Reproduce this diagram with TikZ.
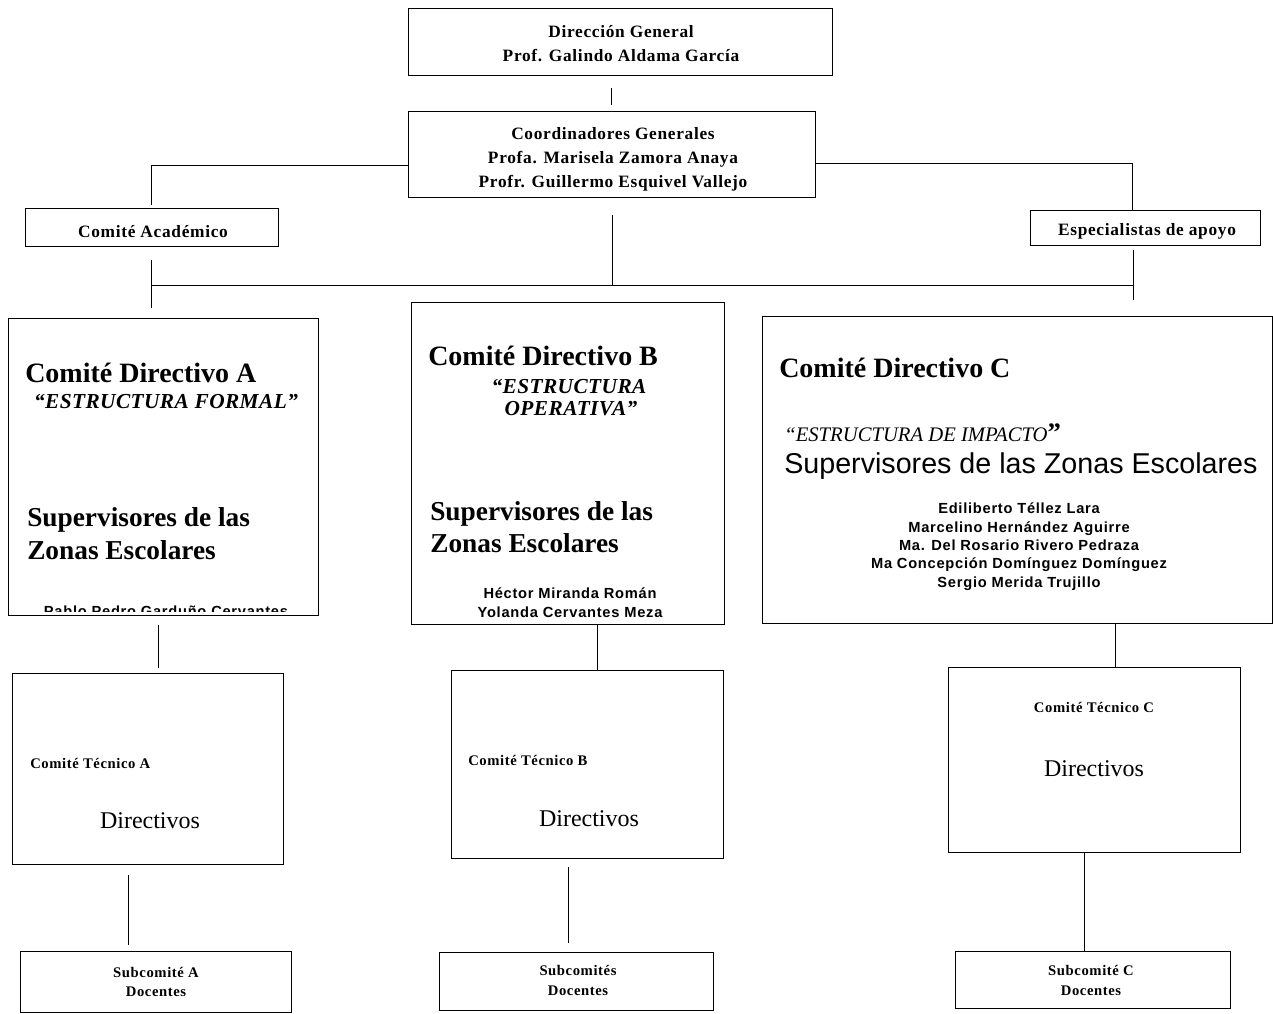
\documentclass[tikz,border=0pt]{standalone}
\usepackage{fontspec}
\setmainfont{Liberation Serif}
\setsansfont{Liberation Sans}
\newfontfamily\spacedserif[LetterSpace=4]{Liberation Serif}
\newfontfamily\smallspaced[LetterSpace=4]{Liberation Serif}
\newfontfamily\midspaced[LetterSpace=2]{Liberation Serif}
\newfontfamily\namesans[LetterSpace=5]{Liberation Sans}
\usetikzlibrary{fit}
\begin{document}
\begin{tikzpicture}[x=0.75pt,y=-0.75pt,
  box/.style={draw=black, line width=0.7pt, inner sep=0pt, fit={#1}},
  conn/.style={draw=black, line width=0.7pt},
  lbl/.style={anchor=base, inner sep=0pt},
  hdr/.style={lbl, font=\spacedserif\bfseries\fontsize{13}{15}\selectfont},
  bigt/.style={lbl, anchor=base west, font=\bfseries\fontsize{21}{24}\selectfont},
  supt/.style={lbl, anchor=base west, font=\bfseries\fontsize{20.5}{24}\selectfont},
  estr/.style={lbl, font=\midspaced\bfseries\itshape\fontsize{16}{19}\selectfont},
  names/.style={lbl, font=\namesans\bfseries\fontsize{11}{13}\selectfont},
  tec/.style={lbl, font=\smallspaced\bfseries\fontsize{11}{13}\selectfont},
  dirv/.style={lbl, font=\fontsize{18}{21}\selectfont}]
\useasboundingbox (0,0) rectangle (1273,1013);

% boxes
\node[box={(408,8)(832,75)}] (dg) {};
\node[box={(408,111)(815,197)}] (cg) {};
\node[box={(25,208)(278,246)}] (acad) {};
\node[box={(1030,210)(1260,245)}] (esp) {};
\node[box={(8,318)(318,615)}] (cda) {};
\node[box={(411,302)(724,624)}] (cdb) {};
\node[box={(762,316)(1272,623)}] (cdc) {};
\node[box={(12,673)(283,864)}] (teca) {};
\node[box={(451,670)(723,858)}] (tecb) {};
\node[box={(948,667)(1240,852)}] (tecc) {};
\node[box={(20,951)(291,1012)}] (suba) {};
\node[box={(439,952)(713,1010)}] (subb) {};
\node[box={(955,951)(1230,1008)}] (subc) {};

% helper coordinates
\coordinate (X611) at (611,0);
\coordinate (X612) at (612,0);
\coordinate (Y165) at (0,165);
\coordinate (Y163) at (0,163);
\coordinate (X1132) at (1132,0);
\coordinate (X1133) at (1133,0);
\coordinate (X158) at (158,0);
\coordinate (X597) at (597,0);
\coordinate (X1115) at (1115,0);
\coordinate (X128) at (128,0);
\coordinate (X568) at (568,0);
\coordinate (X1084) at (1084,0);
\coordinate (busL) at (152,285);
\coordinate (busM) at (612,285);
\coordinate (busR) at (1133,285);

% connectors
\draw[conn, shorten <=9.75pt, shorten >=4.5pt] (dg.south -| X611) -- (cg.north -| X611);
\draw[conn, shorten >=2pt] (cg.west |- Y165) -| (acad.north);
\draw[conn] (cg.east |- Y163) -| (esp.north -| X1132);
\draw[conn, shorten <=13.5pt] (cg.south -| X612) -- (busM);
\draw[conn] (busL) -- (busR);
\draw[conn, shorten <=10.5pt, shorten >=7.5pt] (acad.south) -- (cda.north -| acad.south);
\draw[conn, shorten <=3.75pt, shorten >=12pt] (esp.south -| X1133) -- (cdc.north -| X1133);
\draw[conn, shorten <=7.5pt, shorten >=3.75pt] (cda.south -| X158) -- (teca.north -| X158);
\draw[conn] (cdb.south -| X597) -- (tecb.north -| X597);
\draw[conn] (cdc.south -| X1115) -- (tecc.north -| X1115);
\draw[conn, shorten <=8.25pt, shorten >=4.5pt] (teca.south -| X128) -- (suba.north -| X128);
\draw[conn, shorten <=6.75pt, shorten >=6.75pt] (tecb.south -| X568) -- (subb.north -| X568);
\draw[conn] (tecc.south -| X1084) -- (subc.north -| X1084);

% top texts
\node[hdr] (dg1) at (621,38) {Dirección General};
\node[hdr] (dg2) at (621,62) {Prof. Galindo Aldama García};
\node[hdr] (cg1) at (613,140) {Coordinadores Generales};
\node[hdr] (cg2) at (613,163) {Profa. Marisela Zamora Anaya};
\node[hdr] (cg3) at (613,187) {Profr. Guillermo Esquivel Vallejo};
\node[hdr] (acadt) at (153,237) {Comité Académico};
\node[hdr] (espt) at (1147,235) {Especialistas de apoyo};

% Comite Directivo A
\node[bigt] (cdat) at (25,382) {Comité Directivo A};
\node[estr] (cdae) at (166,408) {“ESTRUCTURA FORMAL”};
\node[supt] (cdas1) at (27,526) {Supervisores de las};
\node[supt] (cdas2) at (27,559) {Zonas Escolares};
\begin{scope}
  \clip (8,318) rectangle (318,611);
  \node[names] (cdan) at (166,616) {Pablo Pedro Garduño Cervantes};
\end{scope}

% Comite Directivo B
\node[bigt] (cdbt) at (428,365) {Comité Directivo B};
\node[estr] (cdbe1) at (569,393) {“ESTRUCTURA};
\node[estr] (cdbe2) at (571,415) {OPERATIVA”};
\node[supt] (cdbs1) at (430,520) {Supervisores de las};
\node[supt] (cdbs2) at (430,552) {Zonas Escolares};
\node[names] (cdbn1) at (570,598) {Héctor Miranda Román};
\node[names] (cdbn2) at (570,617) {Yolanda Cervantes Meza};

% Comite Directivo C
\node[bigt] (cdct) at (779,377) {Comité Directivo C};
\node[lbl, anchor=base west, font=\itshape\fontsize{15.5}{18}\selectfont] (cdce) at (784,441)
  {“ESTRUCTURA DE IMPACTO{\upshape\bfseries\fontsize{20}{20}\selectfont ”}};
\node[lbl, anchor=base west, font=\sffamily\fontsize{21.5}{25}\selectfont] (cdcs) at (784,473)
  {Supervisores de las Zonas Escolares};
\node[names] (cdcn1) at (1019,513) {Ediliberto Téllez Lara};
\node[names] (cdcn2) at (1019,532) {Marcelino Hernández Aguirre};
\node[names] (cdcn3) at (1019,550) {Ma. Del Rosario Rivero Pedraza};
\node[names] (cdcn4) at (1019,568) {Ma Concepción Domínguez Domínguez};
\node[names] (cdcn5) at (1019,587) {Sergio Merida Trujillo};

% Comites tecnicos
\node[tec, anchor=base west] (tecat) at (30,768) {Comité Técnico A};
\node[dirv] (tecad) at (150,828) {Directivos};
\node[tec, anchor=base west] (tecbt) at (468,765) {Comité Técnico B};
\node[dirv] (tecbd) at (589,826) {Directivos};
\node[tec] (tecct) at (1094,712) {Comité Técnico C};
\node[dirv] (teccd) at (1094,776) {Directivos};

% Subcomites
\node[tec] (suba1) at (156,977) {Subcomité A};
\node[tec] (suba2) at (156,996) {Docentes};
\node[tec] (subb1) at (578,975) {Subcomités};
\node[tec] (subb2) at (578,995) {Docentes};
\node[tec] (subc1) at (1091,975) {Subcomité C};
\node[tec] (subc2) at (1091,995) {Docentes};
\end{tikzpicture}
\end{document}
